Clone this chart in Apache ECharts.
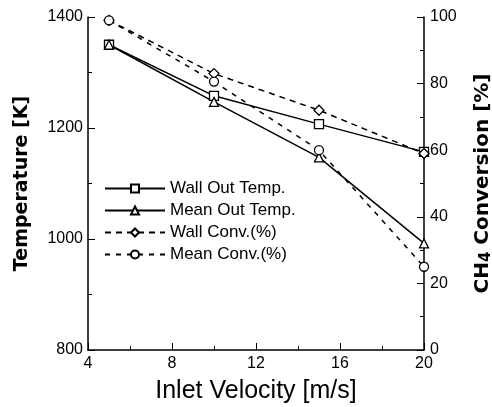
<!DOCTYPE html>
<html><head><meta charset="utf-8">
<script src="https://cdn.jsdelivr.net/npm/echarts@6/dist/echarts.min.js"></script>
<style>html,body{margin:0;padding:0;background:#fff}#c{width:492px;height:407px}</style>
</head><body><div id="c"></div>
<script>
const velocity = [5, 10, 15, 20];
const wallOutTemp = [1350, 1258, 1207, 1157];
const meanOutTemp = [1350, 1247, 1147, 992];
const wallConv = [99, 83, 72, 59];
const meanConv = [99, 80.6, 60, 25];
const xTicks = [4, 8, 12, 16, 20];
const seriesNames = ['Wall Out Temp.', 'Mean Out Temp.', 'Wall Conv.(%)', 'Mean Conv.(%)'];

const FONT = 'Liberation Sans';
const BOLD = 'DejaVu Sans';
const pair = (ys) => velocity.map((v, i) => [v, ys[i]]);
const chart = echarts.init(document.getElementById('c'), null, {renderer: 'canvas'});
const axisCommon = {
  axisLine: {show: true, lineStyle: {color: '#000', width: 1.5}},
  axisTick: {show: true, inside: true, length: 7, lineStyle: {color: '#000', width: 1}},
  minorTick: {show: true, splitNumber: 2, length: 4, lineStyle: {color: '#000', width: 1}},
  splitLine: {show: false},
  axisLabel: {color: '#000', fontFamily: FONT, fontSize: 16, formatter: (v) => String(v)}
};
chart.setOption({
  animation: false,
  backgroundColor: '#fff',
  grid: {left: 88, right: 68, top: 17, bottom: 57, containLabel: false, outerBoundsMode: 'none'},
  legend: {
    orient: 'vertical', left: 99, top: 175, itemWidth: 60, itemHeight: 10, itemGap: 5,
    textStyle: {fontFamily: FONT, fontSize: 17, color: '#000'},
    data: seriesNames
  },
  xAxis: Object.assign({}, axisCommon, {
    type: 'value', min: xTicks[0], max: xTicks[xTicks.length - 1], interval: 4,
    name: 'Inlet Velocity [m/s]', nameLocation: 'middle', nameGap: 29,
    nameTextStyle: {fontFamily: FONT, fontSize: 25, color: '#000'},
    axisLabel: Object.assign({}, axisCommon.axisLabel, {margin: 6})
  }),
  yAxis: [
    Object.assign({}, axisCommon, {
      type: 'value', min: 800, max: 1400, interval: 200, position: 'left',
      name: 'Temperature [K]', nameLocation: 'middle', nameGap: 56, nameRotate: 90,
      nameTextStyle: {fontFamily: BOLD, fontSize: 19, fontWeight: 'bold', color: '#000'},
      axisLabel: Object.assign({}, axisCommon.axisLabel, {margin: 5})
    }),
    Object.assign({}, axisCommon, {
      type: 'value', min: 0, max: 100, interval: 20, position: 'right',
      name: 'CH{sub|4} Conversion [%]', nameLocation: 'middle', nameGap: 48, nameRotate: 90,
      nameTextStyle: {fontFamily: BOLD, fontSize: 20, fontWeight: 'bold', color: '#000',
        rich: {sub: {fontFamily: BOLD, fontSize: 15, fontWeight: 'bold', color: '#000', verticalAlign: 'bottom', padding: [7, 0, 0, 0]}}},
      axisLabel: Object.assign({}, axisCommon.axisLabel, {margin: 6})
    })
  ],
  series: [
    {name: seriesNames[0], type: 'line', yAxisIndex: 0, data: pair(wallOutTemp),
     symbol: 'rect', symbolSize: 9, itemStyle: {color: '#fff', borderColor: '#000', borderWidth: 1.3},
     lineStyle: {color: '#000', width: 1.5}},
    {name: seriesNames[1], type: 'line', yAxisIndex: 0, data: pair(meanOutTemp),
     symbol: 'triangle', symbolSize: 9, itemStyle: {color: '#fff', borderColor: '#000', borderWidth: 1.3},
     lineStyle: {color: '#000', width: 1.5}},
    {name: seriesNames[2], type: 'line', yAxisIndex: 1, data: pair(wallConv),
     symbol: 'diamond', symbolSize: 10, itemStyle: {color: '#fff', borderColor: '#000', borderWidth: 1.3},
     lineStyle: {color: '#000', width: 1.5, type: [6, 5]}},
    {name: seriesNames[3], type: 'line', yAxisIndex: 1, data: pair(meanConv),
     symbol: 'circle', symbolSize: 9, itemStyle: {color: '#fff', borderColor: '#000', borderWidth: 1.3},
     lineStyle: {color: '#000', width: 1.5, type: [5, 6]}}
  ]
});
</script></body></html>
